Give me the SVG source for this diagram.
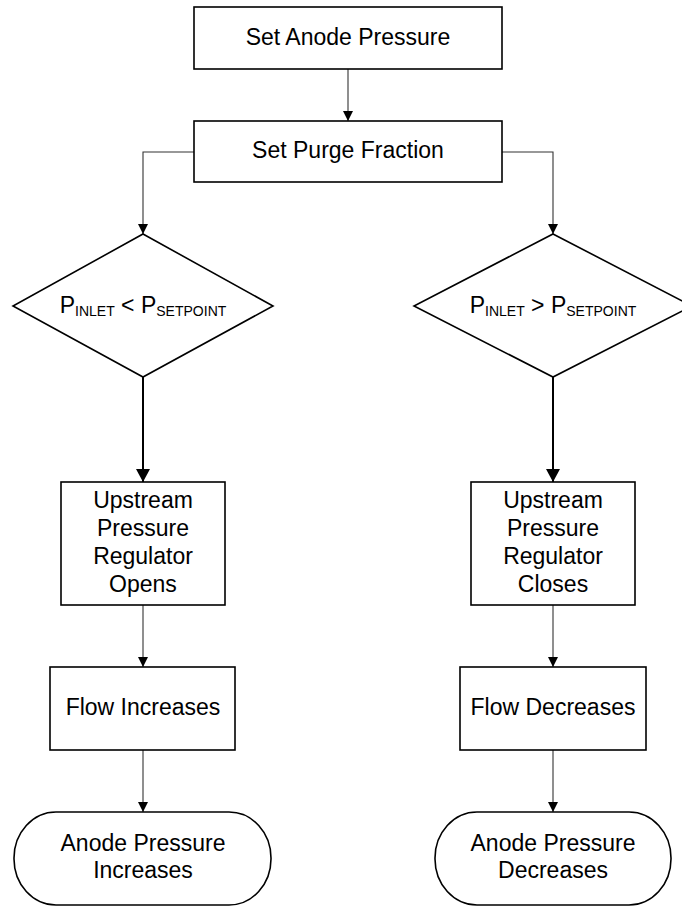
<svg xmlns="http://www.w3.org/2000/svg" width="682" height="907" viewBox="0 0 682 907">
<style>
  .box{fill:#fff;stroke:#000;stroke-width:1.6}
  .lbl{font-family:"Liberation Sans",Arial,sans-serif;font-size:23px;fill:#000;text-anchor:middle}
  .sub{font-size:14px}
  .thin{fill:none;stroke:#333;stroke-width:1.1}
  .thick{fill:none;stroke:#000;stroke-width:2}
</style>
<defs>
  <marker id="arrS" markerUnits="userSpaceOnUse" markerWidth="10" markerHeight="14" refX="10" refY="7" orient="auto" viewBox="0 0 10 14">
    <path d="M0,2 L10,7 L0,12 Z" fill="#000"/>
  </marker>
  <marker id="arrL" markerUnits="userSpaceOnUse" markerWidth="14" markerHeight="16" refX="13" refY="8" orient="auto" viewBox="0 0 14 16">
    <path d="M0,1 L13,8 L0,15 Z" fill="#000"/>
  </marker>
</defs>
<g id="connectors">
  <path class="thin" d="M348,69 V121" marker-end="url(#arrS)"/>
  <path class="thin" d="M194,152 H143 V234" marker-end="url(#arrS)"/>
  <path class="thin" d="M502,152 H553 V234" marker-end="url(#arrS)"/>
  <path class="thick" d="M143,377 V482" marker-end="url(#arrL)"/>
  <path class="thick" d="M553,377 V482" marker-end="url(#arrL)"/>
  <path class="thin" d="M143,605 V667" marker-end="url(#arrS)"/>
  <path class="thin" d="M553,605 V667" marker-end="url(#arrS)"/>
  <path class="thin" d="M143,750 V812" marker-end="url(#arrS)"/>
  <path class="thin" d="M553,750 V812" marker-end="url(#arrS)"/>
</g>
<g id="set-anode-pressure">
  <rect class="box" x="194" y="7" width="308" height="62"/>
  <text class="lbl" x="348" y="45">Set Anode Pressure</text>
</g>
<g id="set-purge-fraction">
  <rect class="box" x="194" y="121" width="308" height="61"/>
  <text class="lbl" x="348" y="158">Set Purge Fraction</text>
</g>
<g id="decision-less">
  <polygon class="box" points="143,234 273,306 143,377 13,306"/>
  <text class="lbl" x="143" y="313">P<tspan class="sub" dy="2.5">INLET</tspan><tspan dy="-2.5"> &lt; P</tspan><tspan class="sub" dy="2.5">SETPOINT</tspan></text>
</g>
<g id="decision-greater">
  <polygon class="box" points="553,234 692,306 553,377 414,306"/>
  <text class="lbl" x="553" y="313">P<tspan class="sub" dy="2.5">INLET</tspan><tspan dy="-2.5"> &gt; P</tspan><tspan class="sub" dy="2.5">SETPOINT</tspan></text>
</g>
<g id="regulator-opens">
  <rect class="box" x="61" y="482" width="164" height="123"/>
  <text class="lbl" x="143" y="508">Upstream</text>
  <text class="lbl" x="143" y="536">Pressure</text>
  <text class="lbl" x="143" y="564">Regulator</text>
  <text class="lbl" x="143" y="592">Opens</text>
</g>
<g id="regulator-closes">
  <rect class="box" x="471" y="482" width="164" height="123"/>
  <text class="lbl" x="553" y="508">Upstream</text>
  <text class="lbl" x="553" y="536">Pressure</text>
  <text class="lbl" x="553" y="564">Regulator</text>
  <text class="lbl" x="553" y="592">Closes</text>
</g>
<g id="flow-increases">
  <rect class="box" x="50" y="667" width="185" height="83"/>
  <text class="lbl" x="143" y="715">Flow Increases</text>
</g>
<g id="flow-decreases">
  <rect class="box" x="460" y="667" width="186" height="83"/>
  <text class="lbl" x="553" y="715">Flow Decreases</text>
</g>
<g id="pressure-increases">
  <rect class="box" x="14" y="812" width="257" height="93" rx="42" ry="46"/>
  <text class="lbl" x="143" y="851">Anode Pressure</text>
  <text class="lbl" x="143" y="878">Increases</text>
</g>
<g id="pressure-decreases">
  <rect class="box" x="435" y="812" width="236" height="93" rx="42" ry="46"/>
  <text class="lbl" x="553" y="851">Anode Pressure</text>
  <text class="lbl" x="553" y="878">Decreases</text>
</g>
</svg>
